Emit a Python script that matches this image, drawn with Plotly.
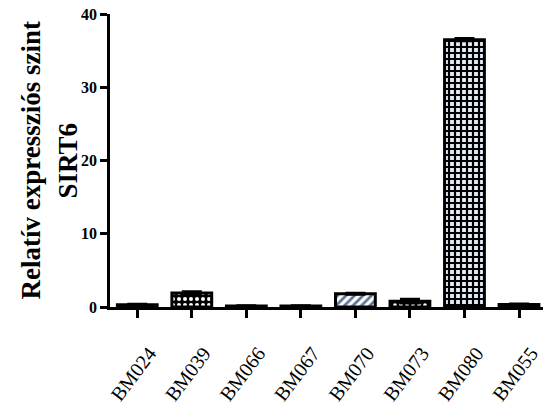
import plotly.graph_objects as go

# Relative SIRT6 expression per sample
samples = ["BM024", "BM039", "BM066", "BM067", "BM070", "BM073", "BM080", "BM055"]
expression = [0.3, 1.9, 0.15, 0.15, 1.8, 0.8, 36.5, 0.35]
errors = [0.1, 0.2, 0.05, 0.05, 0.1, 0.3, 0.2, 0.1]

# Fill style per bar
pattern_shape = ["", ".", "", "", "/", ".", "+", ""]
pattern_fg = ["black", "white", "black", "black", "#5d7292", "white", "black", "black"]
pattern_bg = ["black", "black", "black", "black", "white", "black", "#e4edf7", "black"]
pattern_solidity = [0.5, 0.35, 0.5, 0.5, 0.45, 0.3, 0.6, 0.5]

serif = "Liberation Serif, Times New Roman, serif"

fig = go.Figure()
# one bar per trace so each keeps its own fill pattern
for name, val, err, shp, fg, bg, sol in zip(samples, expression, errors, pattern_shape,
                                            pattern_fg, pattern_bg, pattern_solidity):
    fig.add_trace(
        go.Bar(
            x=[name],
            y=[val],
            width=0.73,
            marker=dict(
                color=bg,
                line=dict(color="black", width=3),
                pattern=dict(shape=shp, fgcolor=fg, bgcolor=bg,
                             size=6, solidity=sol, fillmode="replace"),
            ),
            error_y=dict(type="data", array=[err], visible=True,
                         color="black", thickness=2.5, width=10),
        )
    )

fig.update_layout(
    width=543,
    height=417,
    margin=dict(l=110, r=0, t=14, b=110),
    paper_bgcolor="white",
    plot_bgcolor="white",
    showlegend=False,
    barmode="overlay",
)

# Two-line y-axis title, drawn as rotated annotations
title_lines = ["Relatív expressziós szint", "SIRT6"]
title_x_px = [30, 67]
for line, px in zip(title_lines, title_x_px):
    fig.add_annotation(
        text=line,
        xref="paper", yref="paper",
        x=(px - 110) / 433, y=0.5,
        xanchor="center", yanchor="middle",
        textangle=-90,
        showarrow=False,
        font=dict(family=serif, size=27, color="black", weight="bold"),
    )

fig.update_yaxes(
    range=[0, 40],
    tickvals=[0, 10, 20, 30, 40],
    showgrid=False,
    zeroline=False,
    showline=True,
    linecolor="black",
    linewidth=2.5,
    ticks="outside",
    ticklen=7,
    tickwidth=2.5,
    tickcolor="black",
    tickfont=dict(family=serif, size=16, color="black", weight="bold"),
    automargin=False,
)

fig.update_xaxes(
    range=[-0.5, 7.44],
    categoryorder="array",
    categoryarray=samples,
    showgrid=False,
    showline=True,
    linecolor="black",
    linewidth=2.5,
    ticks="outside",
    ticklen=8,
    tickwidth=2.5,
    tickcolor="black",
    tickangle=-53,
    ticklabelstandoff=16,
    ticklabelshift=12,
    tickfont=dict(family=serif, size=20, color="black"),
    automargin=False,
)

fig.write_html("out.html")
